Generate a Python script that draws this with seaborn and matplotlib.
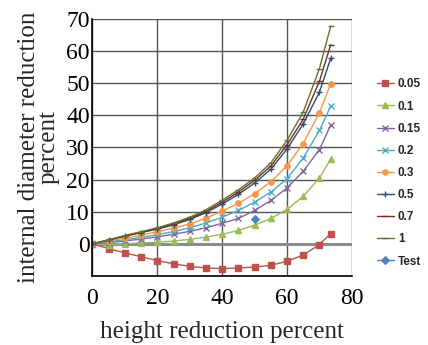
import matplotlib
matplotlib.use("Agg")
import matplotlib.pyplot as plt
import pandas as pd
import seaborn as sns

# height reduction percent (x) and internal diameter reduction for each friction factor
x = [0, 5, 10, 15, 20, 25, 30, 35, 40, 45, 50, 55, 60, 65, 70, 73.5]
m_005 = [0, -1.5, -2.8, -4.0, -5.2, -6.2, -7.0, -7.5, -7.7, -7.5, -7.2, -6.7, -5.4, -3.5, -0.2, 3.2]
m_01 = [0, -0.2, 0, 0.3, 0.5, 0.9, 1.4, 2.1, 3.0, 4.2, 5.8, 7.9, 10.7, 14.8, 20.5, 26.4]
m_015 = [0, 0.4, 0.9, 1.5, 2.2, 3.0, 3.9, 5.0, 6.4, 7.9, 10.4, 13.5, 17.4, 22.6, 29.3, 37.0]
m_02 = [0, 0.7, 1.3, 2.0, 2.9, 3.8, 5.0, 6.5, 8.3, 10.4, 13.0, 16.1, 20.3, 26.7, 35.3, 42.9]
m_03 = [0, 1.0, 1.8, 2.7, 3.8, 4.9, 6.2, 8.0, 10.2, 12.6, 15.6, 19.3, 24.3, 31.2, 40.8, 49.9]
m_05 = [0, 1.2, 2.4, 3.5, 4.6, 5.9, 7.6, 9.7, 12.4, 15.4, 18.9, 23.2, 29.5, 37.3, 47.2, 57.8]
m_07 = [0, 1.2, 2.5, 3.6, 4.8, 6.2, 7.9, 10.1, 13.0, 16.1, 19.8, 24.2, 30.8, 38.8, 50.6, 62.0]
m_1 = [0, 1.3, 2.6, 3.8, 5.0, 6.5, 8.3, 10.6, 13.6, 16.8, 20.5, 25.2, 32.2, 41.0, 54.5, 67.8]
test_x = [50]
test_y = [7.7]

labels = ["0.05", "0.1", "0.15", "0.2", "0.3", "0.5", "0.7", "1"]
series = [m_005, m_01, m_015, m_02, m_03, m_05, m_07, m_1]
colors = ["#C0504D", "#9BBB59", "#8064A2", "#4BACC6", "#F79646", "#2C4D75", "#772C2A", "#5F7530"]
markers = ["s", "^", "x", "x", "o", "+", "_", "_"]

sns.set_style("white")
plt.rcParams["font.family"] = ["Liberation Serif"]

fig = plt.figure(figsize=(4.28, 3.45), dpi=100)
ax = fig.add_axes([0.216, 0.2, 0.606, 0.745])

# grid first so curves sit on top
ax.set_axisbelow(True)
ax.grid(True, color="#555555", linewidth=1.0)
ax.axhline(0, color="#8c8c8c", linewidth=2.2, zorder=1)

for lab, vals, col, mk in zip(labels, series, colors, markers):
    sns.lineplot(x=x, y=vals, ax=ax, color=col, marker=mk, markersize=3.8,
                 markeredgecolor=col, markeredgewidth=1, linewidth=1.0, label=lab)

sns.lineplot(x=test_x, y=test_y, ax=ax, color="#4F81BD", marker="D", markersize=4,
             markeredgecolor="#4F81BD", linewidth=1.0, label="Test")

ax.set_xlim(0, 80)
ax.set_ylim(-10, 70)
ax.set_xticks([0, 20, 40, 60, 80])
ax.set_yticks([-10, 0, 10, 20, 30, 40, 50, 60, 70])
ax.set_yticklabels(["", "0", "10", "20", "30", "40", "50", "60", "70"])
ax.tick_params(labelsize=17, length=0, pad=2, labelcolor="black")
ax.tick_params(axis="x", pad=9)

for s in ["top", "right"]:
    ax.spines[s].set_visible(False)
for s in ["left", "bottom"]:
    ax.spines[s].set_color("black")
    ax.spines[s].set_linewidth(1.2)

ax.set_xlabel("height reduction percent", fontsize=18, labelpad=8)
ax.set_ylabel("internal diameter reduction\npercent", fontsize=18, labelpad=5, linespacing=0.85)

handles, labs = ax.get_legend_handles_labels()
ax.legend_.remove()
fig.legend(handles, labs, loc="upper left", bbox_to_anchor=(0.866, 0.79), frameon=False,
           prop={"family": "Liberation Sans", "weight": "bold", "size": 8.5},
           handlelength=1.5, labelspacing=0.86, handletextpad=0.3, borderpad=0)

fig.savefig("out.png", dpi=100)
